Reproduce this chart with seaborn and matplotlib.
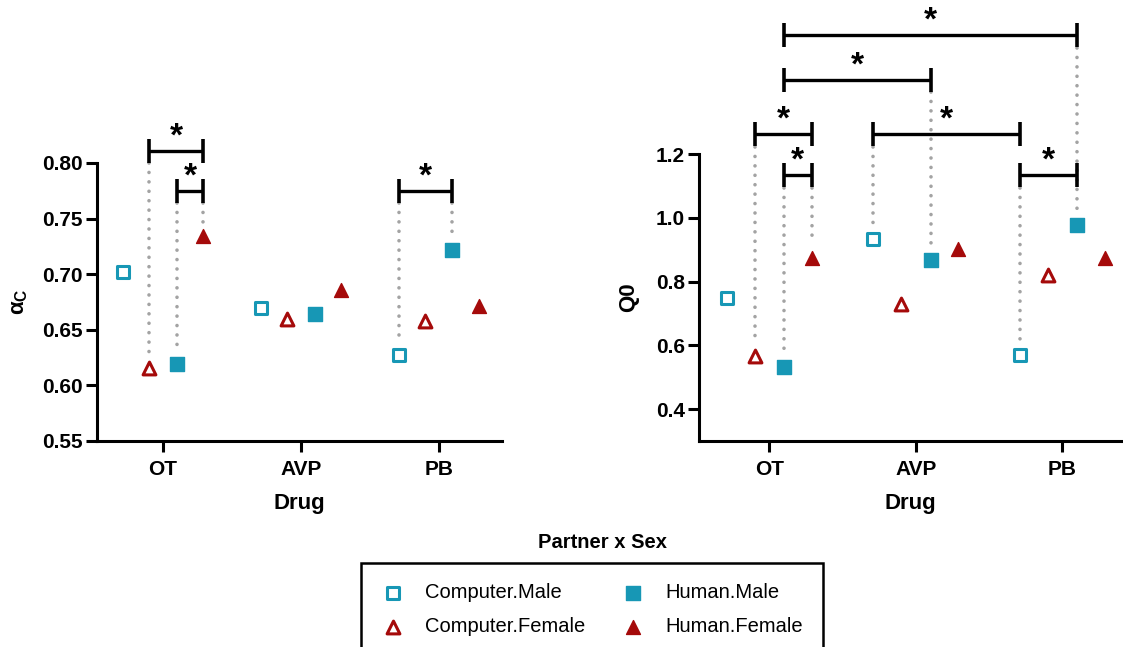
import numpy as np
import pandas as pd
import matplotlib
matplotlib.use("Agg")
import matplotlib.pyplot as plt
import seaborn as sns

# ---------------- data ----------------
drugs = ["OT", "AVP", "PB"]
groups = ["Computer.Male", "Computer.Female", "Human.Male", "Human.Female"]

alpha_cm = [0.702, 0.670, 0.627]
alpha_cf = [0.616, 0.660, 0.658]
alpha_hm = [0.619, 0.664, 0.722]
alpha_hf = [0.734, 0.686, 0.671]

q0_cm = [0.749, 0.934, 0.570]
q0_cf = [0.567, 0.730, 0.819]
q0_hm = [0.533, 0.868, 0.977]
q0_hf = [0.873, 0.903, 0.875]

alpha_ticks = [0.55, 0.60, 0.65, 0.70, 0.75, 0.80]
q0_ticks = [0.4, 0.6, 0.8, 1.0, 1.2]

# significance comparisons: ((drug, group), (drug, group), bracket level)
alpha_sig = [((0, 1), (0, 3), 0.811), ((0, 2), (0, 3), 0.775), ((2, 0), (2, 2), 0.775)]
q0_sig = [((0, 2), (2, 2), 1.572), ((0, 2), (1, 2), 1.432), ((0, 1), (0, 3), 1.262),
          ((1, 0), (2, 0), 1.262), ((0, 2), (0, 3), 1.133), ((2, 0), (2, 2), 1.133)]
# dotted guide lines: (drug, group, top level)
alpha_guides = [(0, 1, 0.800), (0, 2, 0.764), (0, 3, 0.764), (2, 0, 0.764), (2, 2, 0.764)]
q0_guides = [(0, 1, 1.222), (0, 2, 1.093), (0, 3, 1.093), (1, 0, 1.222), (1, 2, 1.393),
             (2, 0, 1.093), (2, 2, 1.533)]

# ---------------- style ----------------
sns.set_style("ticks")
plt.rcParams["font.family"] = ["Liberation Sans", "DejaVu Sans"]
plt.rcParams["mathtext.fontset"] = "custom"
plt.rcParams["mathtext.rm"] = "Liberation Sans:bold"
plt.rcParams["mathtext.it"] = "Liberation Sans:bold"
plt.rcParams["mathtext.bf"] = "Liberation Sans:bold"
for k in ["text.color", "axes.labelcolor", "xtick.color", "ytick.color", "axes.edgecolor"]:
    plt.rcParams[k] = "black"

TEAL = "#1797b5"
RED = "#a50a0a"
offsets = [-0.29, -0.10, 0.10, 0.29]
styles = [
    dict(marker="s", facecolor="white", edgecolor=TEAL, linewidth=2.2, s=80),
    dict(marker="^", facecolor="white", edgecolor=RED, linewidth=2.2, s=85),
    dict(marker="s", facecolor=TEAL, edgecolor=TEAL, linewidth=1.0, s=90),
    dict(marker="^", facecolor=RED, edgecolor=RED, linewidth=1.0, s=100),
]

W, H = 1123, 647
fig = plt.figure(figsize=(W / 100, H / 100), dpi=100)
axL = fig.add_axes([97 / W, 1 - 441 / H, 405 / W, 278 / H])
axR = fig.add_axes([699 / W, 1 - 441 / H, 422 / W, 287 / H])


def draw_panel(ax, series, ylim, yticks, ylabel, sigs, guides, xlim, fmt, ylabelpad):
    df = pd.DataFrame({
        "Drug": np.repeat(drugs, len(groups)),
        "Group": groups * len(drugs),
        "value": np.array(series).T.ravel(),
    })
    df["pos"] = [drugs.index(d) + offsets[groups.index(g)] for d, g in zip(df.Drug, df.Group)]
    for gi, g in enumerate(groups):
        sub = df[df.Group == g]
        sns.scatterplot(data=sub, x="pos", y="value", ax=ax, label=g, zorder=5,
                        clip_on=False, **styles[gi])
    ax.get_legend().remove()

    ax.set_xlim(*xlim)
    ax.set_ylim(*ylim)
    ax.set_xticks(range(len(drugs)))
    ax.set_xticklabels(drugs)
    ax.set_yticks(yticks)
    ax.set_yticklabels([fmt.format(t) for t in yticks])
    for sp in ["top", "right"]:
        ax.spines[sp].set_visible(False)
    for sp in ["left", "bottom"]:
        ax.spines[sp].set_linewidth(2.2)
    ax.spines["left"].set_bounds(ylim[0], yticks[-1])
    ax.tick_params(width=2.2, length=8, labelsize=15, pad=2)
    ax.tick_params(axis="x", pad=6)
    for lab in ax.get_xticklabels() + ax.get_yticklabels():
        lab.set_fontweight("bold")
    ax.set_xlabel("Drug", fontsize=16, fontweight="bold", labelpad=10)
    ax.set_ylabel(ylabel, fontsize=16, fontweight="bold", labelpad=ylabelpad)

    # pixel scale
    hpx = ax.get_position().height * H
    upp = (ylim[1] - ylim[0]) / hpx
    half = 12 * upp
    gap = 14 * upp

    def xy(d, g):
        return d + offsets[g], series[g][d]

    for d, g, top in guides:
        x, yv = xy(d, g)
        ax.plot([x, x], [top, yv + gap], ls=(0, (0.01, 2.6)), lw=2.6, color="#a3a3a3",
                dash_capstyle="round", solid_capstyle="round", clip_on=False, zorder=2)
    for (d1, g1), (d2, g2), lvl in sigs:
        x1 = xy(d1, g1)[0]
        x2 = xy(d2, g2)[0]
        ax.plot([x1, x2], [lvl, lvl], color="black", lw=2.4, clip_on=False, zorder=6,
                solid_capstyle="butt")
        for xx in (x1, x2):
            ax.plot([xx, xx], [lvl - half, lvl + half], color="black", lw=2.6,
                    clip_on=False, zorder=6, solid_capstyle="butt")
        ax.annotate("*", xy=((x1 + x2) / 2, lvl), xytext=(0, -1), textcoords="offset points",
                    ha="center", va="bottom", fontsize=24, fontweight="bold",
                    annotation_clip=False)


draw_panel(axL, [alpha_cm, alpha_cf, alpha_hm, alpha_hf], (0.55, 0.80), alpha_ticks,
           "α$_{\\mathrm{C}}$", alpha_sig, alpha_guides, (-0.48, 2.46), "{:.2f}", 9)
draw_panel(axR, [q0_cm, q0_cf, q0_hm, q0_hf], (0.30, 1.20), q0_ticks,
           "Q0", q0_sig, q0_guides, (-0.48, 2.4), "{:.1f}", 12)

# legend
handles, labels = axL.get_legend_handles_labels()
fig.text(602 / W, 1 - 543 / H, "Partner x Sex", ha="center", va="center",
         fontsize=14.5, fontweight="bold")
leg = fig.legend(handles, labels, ncol=2, loc="upper left",
                 bbox_to_anchor=(361 / W, 1 - 563 / H), frameon=True, fancybox=False,
                 framealpha=1, edgecolor="black", fontsize=14.5, borderpad=1.0,
                 handletextpad=1.0, columnspacing=1.75, labelspacing=0.75,
                 handlelength=1.2, borderaxespad=0)
leg.get_frame().set_linewidth(1.8)

fig.savefig("out.png", dpi=100)
